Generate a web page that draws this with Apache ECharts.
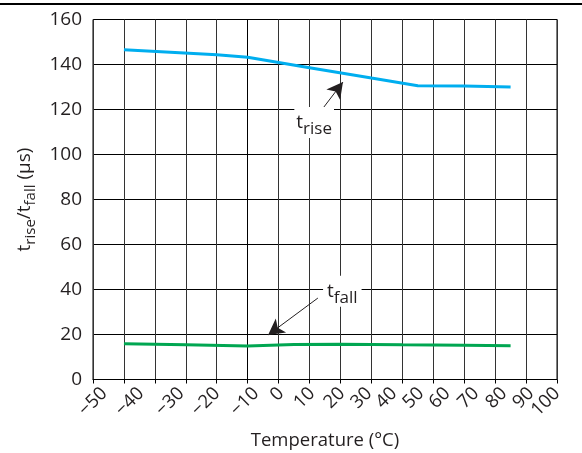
<!DOCTYPE html>
<html>
<head>
<meta charset="utf-8">
<script src="https://cdn.jsdelivr.net/npm/echarts@6/dist/echarts.min.js"></script>
<style>
  html, body { margin: 0; padding: 0; background: #fff; }
  #chart { width: 582px; height: 453px; }
</style>
</head>
<body>
<div id="chart"></div>
<script>
// data
var riseTemps = [-40, -10, 0, 20, 40, 55, 70, 85];
var riseVals  = [146.6, 144.3, 143.2, 138.6, 134.0, 130.6, 130.4, 130.0];
var fallTemps = [-40, -20, 0, 15, 30, 50, 70, 85];
var fallVals  = [15.9, 15.4, 14.9, 15.6, 15.7, 15.4, 15.2, 15.0];

var xTicks = [-50, -40, -30, -20, -10, 0, 10, 20, 30, 40, 50, 60, 70, 80, 90, 100];
var xTickLabels = ['\u221250', '\u221240', '\u221230', '\u221220', '\u221210', '0', '10', '20', '30', '40', '50', '60', '70', '80', '90', '100'];
var yTickLabels = ['0', '20', '40', '60', '80', '100', '120', '140', '160'];

// the source spreads its x labels unevenly, shift each one (in axis units)
var labelShift = [3.6, 5.5, 8.5, 10.1, 12.7, 10.8, 10.8, 10.5, 9.2, 7.3, 6.0, 4.5, 3.8, 2.9, 1.6, 0];
var labelPos = [];
for (var i = 0; i < xTicks.length; i++) {
  labelPos.push(Math.min(100, xTicks[i] + labelShift[i]));
}

function pairs(xs, ys) {
  var out = [];
  for (var i = 0; i < xs.length; i++) out.push([xs[i], ys[i]]);
  return out;
}

var FONT = '"Open Sans", "Noto Sans", sans-serif';
var INK = '#231f20';

// two label-only axes (even / odd labels) so neighbouring rotated labels are never hidden
function labelAxis(parity) {
  var vals = [];
  for (var i = parity; i < labelPos.length; i += 2) vals.push(labelPos[i]);
  return {
    type: 'value', min: -50, max: 100, position: 'bottom',
    axisLine: {show: false}, axisTick: {show: false}, splitLine: {show: false},
    axisLabel: {
      show: true, rotate: 45, margin: 11, fontSize: 18.5, color: INK, fontFamily: FONT,
      hideOverlap: false, showMinLabel: true, showMaxLabel: true,
      customValues: vals,
      formatter: function (v) {
        var best = 0;
        for (var i = 1; i < labelPos.length; i++) {
          if (Math.abs(labelPos[i] - v) < Math.abs(labelPos[best] - v)) best = i;
        }
        return xTickLabels[best];
      }
    }
  };
}

var chart = echarts.init(document.getElementById('chart'), null, {renderer: 'canvas'});

var option = {
  animation: false,
  textStyle: {fontFamily: FONT},
  grid: {
    left: 93, right: 25, top: 19.5, bottom: 73.5,
    containLabel: false, outerBoundsMode: 'none',
    show: true, borderColor: '#000', borderWidth: 1
  },
  graphic: [{
    type: 'rect', shape: {x: 0, y: 3, width: 582, height: 2}, style: {fill: '#000'}
  }],
  xAxis: [{
    type: 'value', min: -50, max: 100, interval: 10,
    axisLine: {show: true, lineStyle: {color: '#000', width: 1}},
    axisTick: {show: true, inside: false, length: 4, lineStyle: {color: '#000'}},
    axisLabel: {show: false},
    splitLine: {show: true, lineStyle: {color: '#333', width: 1}},
    name: 'Temperature (\u00b0C)', nameLocation: 'middle', nameGap: 52,
    nameTextStyle: {fontSize: 18.5, color: INK, fontFamily: FONT}
  }, labelAxis(0), labelAxis(1)],
  yAxis: {
    type: 'value', min: 0, max: 160, interval: 20,
    axisLine: {show: true, lineStyle: {color: '#000'}},
    axisTick: {show: true, inside: false, length: 4, lineStyle: {color: '#000'}},
    axisLabel: {
      margin: 11, fontSize: 19, color: INK, fontFamily: FONT,
      formatter: function (v) { return yTickLabels[Math.round(v / 20)]; }
    },
    splitLine: {show: true, lineStyle: {color: '#000', width: 1}},
    name: '{m|t}{s|rise}{m|/t}{s|fall}{m| (\u00b5s)}',
    nameLocation: 'middle', nameGap: 52, nameRotate: 90,
    nameTextStyle: {
      color: INK,
      rich: {
        m: {fontSize: 19, fontFamily: FONT, color: INK},
        s: {fontSize: 15, fontFamily: FONT, color: INK, padding: [12, 0, 0, 0]}
      }
    }
  },
  series: [{
    name: 'trise', type: 'line', xAxisIndex: 0,
    data: pairs(riseTemps, riseVals),
    showSymbol: false, symbol: 'none',
    lineStyle: {color: '#00aeef', width: 3},
    z: 3,
    markLine: {
      silent: true, symbol: ['none', 'arrow'], symbolSize: [13, 16],
      lineStyle: {color: INK, width: 1, type: 'solid'},
      label: {show: false},
      data: [[{coord: [22.7, 117.6]}, {coord: [30.8, 132.2]}]]
    },
    markPoint: {
      silent: true, symbol: 'rect', symbolSize: 0,
      data: [{coord: [21.5, 114.2]}],
      label: {
        show: true, position: 'inside',
        formatter: '{m|t}{s|rise}',
        backgroundColor: '#fff', padding: [0, 2, 0, 2],
        rich: {
          m: {fontSize: 19, fontFamily: FONT, color: INK},
          s: {fontSize: 17, fontFamily: FONT, color: INK, padding: [14, 0, 0, 0]}
        }
      }
    }
  }, {
    name: 'tfall', type: 'line', xAxisIndex: 0,
    data: pairs(fallTemps, fallVals),
    showSymbol: false, symbol: 'none',
    lineStyle: {color: '#00a651', width: 3},
    z: 3,
    markLine: {
      silent: true, symbol: ['none', 'arrow'], symbolSize: [13, 16],
      lineStyle: {color: INK, width: 1, type: 'solid'},
      label: {show: false},
      data: [[{coord: [22.7, 36.2]}, {coord: [6.6, 19.8]}]]
    },
    markPoint: {
      silent: true, symbol: 'rect', symbolSize: 0,
      data: [{coord: [30.6, 39.2]}],
      label: {
        show: true, position: 'inside',
        formatter: '{m|t}{s|fall}',
        backgroundColor: '#fff', padding: [0, 4, 0, 4],
        rich: {
          m: {fontSize: 19, fontFamily: FONT, color: INK},
          s: {fontSize: 17, fontFamily: FONT, color: INK, padding: [14, 0, 0, 0]}
        }
      }
    }
  }]
};

chart.setOption(option);
</script>
</body>
</html>
